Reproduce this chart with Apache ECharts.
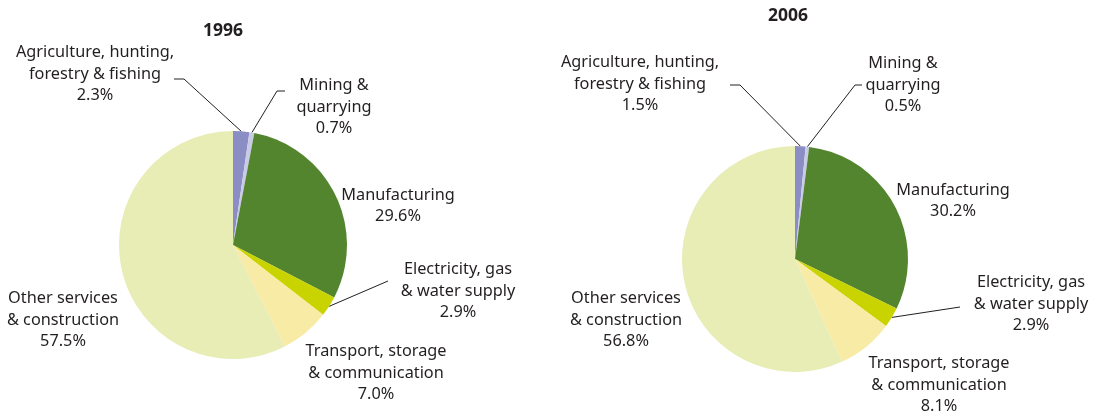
<!DOCTYPE html>
<html>
<head>
<meta charset="utf-8">
<script src="https://cdn.jsdelivr.net/npm/echarts@6/dist/echarts.min.js"></script>
<style>
  html, body { margin: 0; padding: 0; background: #fff; }
  #chart { width: 1097px; height: 417px; }
</style>
</head>
<body>
<div id="chart"></div>
<script>
// Sector shares of gross value added, 1996 vs 2006
const categories = [
  'Agriculture, hunting,\nforestry & fishing',
  'Mining &\nquarrying',
  'Manufacturing',
  'Electricity, gas\n& water supply',
  'Transport, storage\n& communication',
  'Other services\n& construction'
];
const values1996 = [2.3, 0.7, 29.6, 2.9, 7.0, 57.5];
const values2006 = [1.5, 0.5, 30.2, 2.9, 8.1, 56.8];
const years = ['1996', '2006'];

const colors = ['#8a8ec5', '#c9cae6', '#53852f', '#c8d300', '#f8eba5', '#e8edb6'];
const withLine = [true, true, false, true, false, false];

// Label anchor points and leader-line elbows for each pie
const labelSpots = [
  [
    { x: 95, y: 74, elbow: [184, 79], end: [174, 79] },
    { x: 334, y: 107, elbow: [277, 91], end: [285, 91] },
    { x: 398, y: 206 },
    { x: 458, y: 291, elbow: null, end: [388, 281] },
    { x: 376, y: 373 },
    { x: 63, y: 320 }
  ],
  [
    { x: 640, y: 84, elbow: [740, 85], end: [730, 85] },
    { x: 903, y: 85, elbow: [855, 85], end: [862, 85] },
    { x: 953, y: 201 },
    { x: 1031, y: 304, elbow: null, end: [960, 307] },
    { x: 939, y: 385 },
    { x: 626, y: 320 }
  ]
];

const pieGeom = [
  { center: [233, 245], radius: 114 },
  { center: [795, 259], radius: 113 }
];

const font = '"Myriad Pro", "Noto Sans", sans-serif';

function makeSeries(vals, idx) {
  const spots = labelSpots[idx];
  return {
    type: 'pie',
    center: pieGeom[idx].center,
    radius: pieGeom[idx].radius,
    startAngle: 90,
    clockwise: true,
    silent: true,
    animation: false,
    avoidLabelOverlap: false,
    itemStyle: { borderWidth: 0 },
    label: {
      show: true,
      position: 'outside',
      color: '#231f20',
      fontFamily: font,
      fontSize: 16.3,
      lineHeight: 21.5,
      align: 'center',
      formatter: p => p.name + '\n' + p.value.toFixed(1) + '%'
    },
    labelLine: {
      show: true,
      length: 10,
      length2: 10,
      lineStyle: { color: '#231f20', width: 1 }
    },
    labelLayout: function (params) {
      const s = spots[params.dataIndex];
      const out = { x: s.x, y: s.y, align: 'center', verticalAlign: 'middle' };
      if (s.end && params.labelLinePoints) {
        const start = params.labelLinePoints[0];
        const mid = s.elbow || s.end;
        out.labelLinePoints = [start, mid, s.end];
      }
      return out;
    },
    data: vals.map((v, i) => ({
      name: categories[i],
      value: v,
      itemStyle: { color: colors[i] },
      labelLine: { show: withLine[i] }
    }))
  };
}

const titleStyle = { fontFamily: font, fontSize: 17.5, fontWeight: 'bold', color: '#231f20' };

const chart = echarts.init(document.getElementById('chart'), null, { renderer: 'canvas' });
chart.setOption({
  backgroundColor: '#ffffff',
  animation: false,
  title: [
    { text: years[0], left: 203, top: 22, padding: 0, textStyle: titleStyle },
    { text: years[1], left: 768, top: 7, padding: 0, textStyle: titleStyle }
  ],
  series: [makeSeries(values1996, 0), makeSeries(values2006, 1)]
});
</script>
</body>
</html>
